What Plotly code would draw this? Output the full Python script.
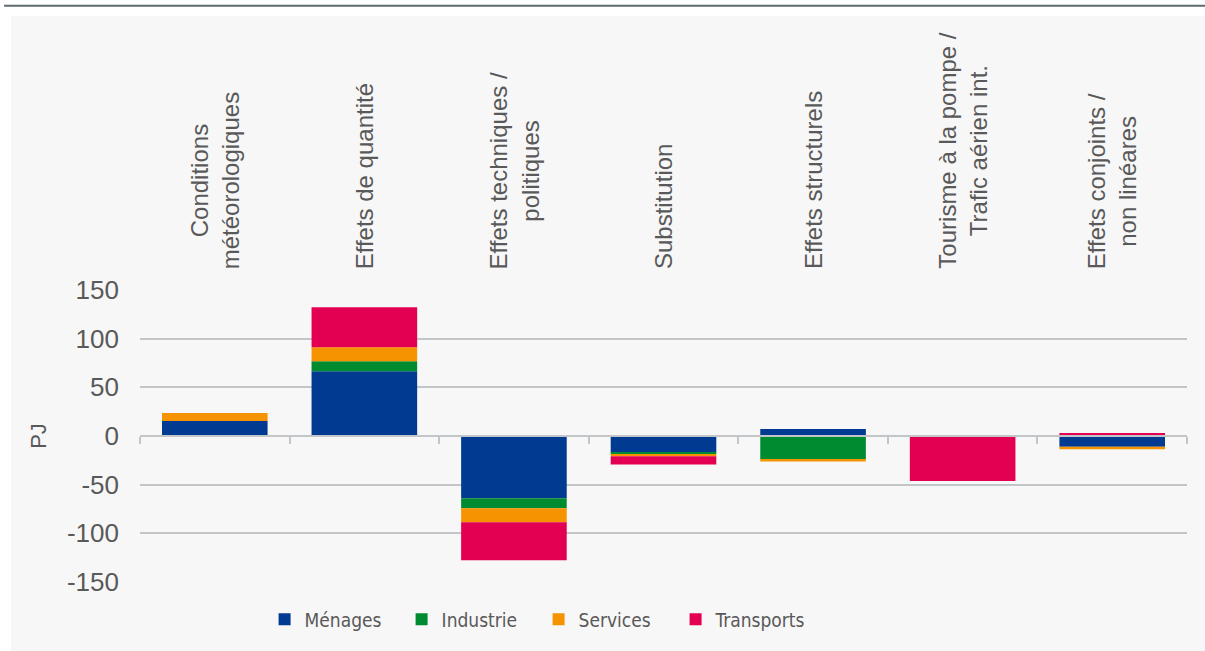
import plotly.graph_objects as go

categories = ["Conditions météorologiques", "Effets de quantité", "Effets techniques / politiques",
              "Substitution", "Effets structurels", "Tourisme à la pompe / Trafic aérien int.",
              "Effets conjoints / non linéares"]
category_labels = ["Conditions<br>météorologiques", "Effets de quantité", "Effets techniques /<br>politiques",
                   "Substitution", "Effets structurels", "Tourisme à la pompe /<br>Trafic aérien int.",
                   "Effets conjoints /<br>non linéares"]

menages = [15.5, 66.5, -64.0, -16.8, 7.2, 0.0, -11.0]
industrie = [0.0, 10.2, -10.3, -1.7, -23.7, 0.0, 0.0]
services = [8.2, 14.5, -14.4, -2.4, -2.4, 0.0, -2.6]
transports = [0.0, 41.0, -39.0, -8.5, 0.0, -46.3, 3.2]

series_names = ["Ménages", "Industrie", "Services", "Transports"]
series_values = [menages, industrie, services, transports]
series_colors = ["#003a91", "#008b30", "#f59400", "#e30052"]

y_ticks = [-150, -100, -50, 0, 50, 100, 150]

TXT = "#595959"
GRID = "#c3c6c9"
BG = "#f7f7f7"
FONT = "Liberation Sans, Arial, sans-serif"

fig = go.Figure()
for name, vals, col in zip(series_names, series_values, series_colors):
    fig.add_trace(go.Bar(x=categories, y=vals, name=name, marker=dict(color=col, line=dict(width=0))))

# Category labels above plot, rotated
for cat, lab in zip(categories, category_labels):
    fig.add_annotation(x=cat, xref="x", y=1, yref="paper", yanchor="bottom", xanchor="center",
                       yshift=19, text=lab, textangle=-90, showarrow=False, align="center",
                       font=dict(family=FONT, size=24, color=TXT))

# Background panel and top rule
fig.add_shape(type="rect", xref="paper", yref="paper", x0=-0.1232, x1=1.06, y0=-0.3, y1=1.939,
              fillcolor=BG, line=dict(width=0), layer="below")
fig.add_shape(type="line", xref="paper", yref="paper", x0=-0.1298, x1=1.06, y0=1.9736, y1=1.9736,
              line=dict(color="#5f6b73", width=2), layer="below")

fig.update_layout(
    width=1205, height=651,
    margin=dict(l=140, r=18, t=290, b=69),
    paper_bgcolor="white", plot_bgcolor=BG,
    barmode="relative", bargap=0.294,
    font=dict(family=FONT, color=TXT),
    showlegend=True,
    legend=dict(orientation="h", x=0.119, xanchor="left", y=-0.128, yanchor="middle",
                entrywidth=92, entrywidthmode="pixels", bgcolor="rgba(0,0,0,0)",
                font=dict(family="Liberation Sans Narrow, DejaVu Sans Condensed, Liberation Sans, sans-serif",
                          size=19, color=TXT),
                traceorder="normal"),
    xaxis=dict(anchor="free", position=0.5, showticklabels=False, ticks="outside", tickson="boundaries",
               ticklen=7, tickcolor=GRID, tickwidth=2, showline=True, linecolor=GRID, linewidth=2,
               showgrid=False, zeroline=False, fixedrange=True),
    yaxis=dict(range=[-150, 150], tickvals=y_ticks, ticktext=[str(v) for v in y_ticks],
               showgrid=True, gridcolor=GRID, gridwidth=2, zeroline=False, showline=False,
               ticklabelstandoff=20,
               tickfont=dict(family=FONT, size=26, color=TXT),
               title=dict(text="PJ", standoff=14, font=dict(family=FONT, size=22, color=TXT))),
)

fig.write_html("out.html", config={"displayModeBar": False},
               post_script="document.body.style.margin='0px';")
